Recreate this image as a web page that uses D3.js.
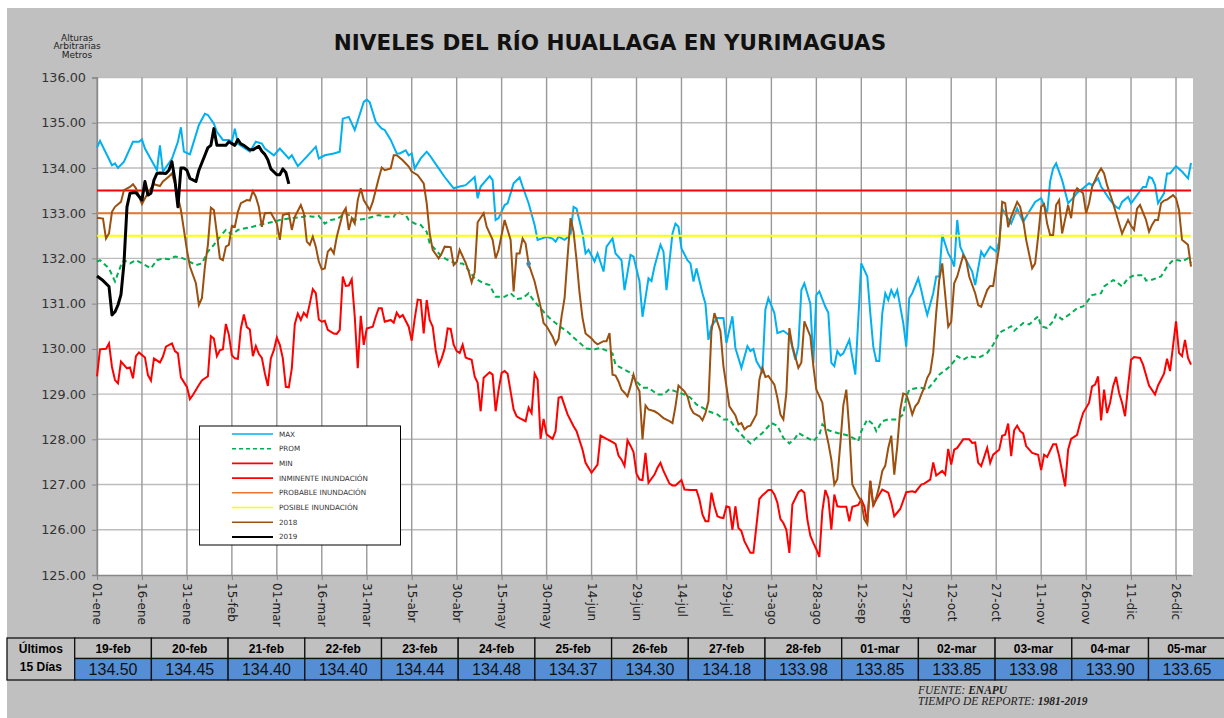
<!DOCTYPE html>
<html>
<head>
<meta charset="utf-8">
<title>Niveles del Río Huallaga en Yurimaguas</title>
<script src="https://d3js.org/d3.v7.min.js"></script>
<style>
body { margin:0; background:#fff; }
svg { display:block; }
</style>
</head>
<body>
<svg id="chart" width="1224" height="718"></svg>
<script>
// ---- data (day index of the year, level in m) ----
var tickLabels = ["01-ene","16-ene","31-ene","15-feb","01-mar","16-mar","31-mar","15-abr","30-abr","15-may","30-may","14-jun","29-jun","14-jul","29-jul","13-ago","28-ago","12-sep","27-sep","12-oct","27-oct","11-nov","26-nov","11-dic","26-dic"];

var maxData = [[0,134.45],[1,134.6],[5,134.06],[6,134.1],[7,134.0],[9,134.14],[12,134.58],[14,134.58],[15,134.63],[16,134.43],[20,133.95],[21,134.5],[22,133.92],[25,134.2],[27,134.58],[28,134.9],[29,134.36],[31,134.3],[34,134.95],[36,135.2],[37,135.17],[39,134.98],[40,134.8],[42,134.62],[44,134.62],[45,134.58],[46,134.87],[47,134.54],[51,134.36],[53,134.58],[55,134.54],[56,134.43],[59,134.28],[61,134.43],[64,134.21],[65,134.28],[67,134.04],[70,134.25],[73,134.47],[74,134.21],[76,134.28],[79,134.32],[81,134.36],[82,135.09],[84,135.13],[86,134.84],[89,135.46],[90,135.51],[91,135.45],[93,135.02],[95,134.87],[96,134.84],[98,134.62],[100,134.32],[101,134.32],[103,134.39],[104,134.28],[105,134.32],[106,133.99],[108,134.21],[110,134.36],[111,134.28],[114,133.99],[116,133.8],[119,133.55],[121,133.59],[123,133.62],[126,133.8],[127,133.33],[128,133.59],[131,133.82],[132,133.73],[133,132.85],[134,132.89],[136,133.18],[137,133.22],[139,133.66],[141,133.79],[142,133.59],[144,133.22],[146,132.74],[147,132.41],[150,132.48],[152,132.44],[153,132.37],[154,132.48],[156,132.41],[158,132.52],[159,133.14],[160,133.1],[162,132.55],[163,132.11],[164,132.19],[166,131.93],[167,132.11],[169,131.71],[170,132.26],[172,132.44],[173,132.11],[175,131.96],[176,131.3],[178,132.08],[179,132.04],[181,131.49],[182,130.71],[184,131.56],[185,131.5],[186,131.82],[188,132.3],[189,132.15],[190,131.3],[192,132.55],[193,132.77],[194,132.7],[195,132.22],[197,131.96],[198,131.89],[199,131.49],[200,131.78],[202,131.23],[203,131.0],[204,130.2],[205,130.5],[207,130.68],[209,130.68],[210,130.13],[212,130.72],[213,130.02],[215,129.58],[217,130.06],[218,129.95],[219,130.0],[220,129.73],[222,129.5],[223,130.87],[224,131.12],[226,130.79],[227,130.35],[229,130.4],[231,130.3],[233,129.76],[234,130.06],[235,131.3],[236,131.45],[238,131.0],[239,129.69],[240,131.19],[241,131.27],[243,130.93],[244,130.8],[245,129.69],[246,129.62],[247,129.95],[248,129.85],[249,129.9],[251,130.2],[253,129.43],[255,131.89],[257,131.6],[258,130.79],[259,130.05],[260,129.73],[261,129.73],[262,130.79],[263,131.23],[264,131.08],[265,131.3],[266,131.15],[267,131.3],[269,130.57],[270,130.05],[271,131.12],[272,131.23],[274,131.56],[275,131.3],[276,131.0],[277,130.75],[279,131.23],[280,131.6],[281,131.6],[282,132.52],[284,132.11],[285,132.0],[286,131.82],[287,132.85],[288,132.26],[290,131.96],[292,131.71],[293,131.41],[295,132.15],[296,132.04],[298,132.26],[300,132.15],[301,132.37],[302,133.1],[305,132.77],[307,133.1],[309,132.81],[311,133.03],[313,133.25],[315,133.33],[317,133.0],[318,133.7],[319,133.99],[320,134.1],[322,133.73],[324,133.22],[326,133.36],[327,133.45],[329,133.55],[331,133.66],[332,133.62],[334,133.77],[335,133.59],[338,133.29],[340,133.14],[341,133.1],[342,133.25],[344,133.36],[345,133.22],[347,133.4],[349,133.58],[350,133.58],[351,133.8],[352,133.77],[353,133.62],[354,133.22],[356,133.44],[357,133.88],[358,133.88],[360,134.04],[362,133.92],[364,133.77],[365,134.11]];

var promData = [[0,131.93],[1,131.96],[4,131.78],[6,131.49],[8,131.85],[9,131.96],[11,131.89],[13,131.96],[15,131.89],[18,131.78],[20,131.96],[22,132.0],[24,131.98],[26,132.04],[28,132.02],[30,131.96],[33,131.85],[35,131.89],[37,132.15],[39,132.3],[41,132.48],[43,132.63],[45,132.52],[47,132.63],[49,132.66],[52,132.7],[54,132.74],[56,132.77],[59,132.81],[61,132.85],[63,132.87],[65,132.89],[68,132.91],[70,132.94],[72,132.92],[74,132.94],[76,132.77],[78,132.85],[80,132.87],[83,133.0],[84,132.96],[86,132.85],[89,132.87],[92,132.92],[94,132.96],[96,132.92],[99,132.92],[100,133.03],[103,132.96],[104,132.85],[106,132.77],[108,132.74],[110,132.59],[111,132.33],[113,132.19],[115,132.04],[118,131.93],[120,131.89],[122,131.89],[124,131.74],[126,131.56],[129,131.45],[131,131.41],[133,131.15],[136,131.15],[138,131.23],[140,131.1],[142,131.12],[144,131.23],[146,131.04],[147,130.97],[149,130.82],[151,130.68],[153,130.57],[155,130.47],[157,130.38],[159,130.25],[161,130.14],[163,130.01],[166,129.99],[168,130.02],[170,129.96],[172,129.9],[173,129.65],[176,129.54],[178,129.47],[180,129.28],[182,129.14],[184,129.14],[187,128.99],[189,128.99],[191,129.11],[193,129.06],[196,128.99],[198,128.92],[200,128.77],[202,128.7],[204,128.62],[207,128.55],[209,128.44],[211,128.44],[213,128.25],[216,128.03],[218,127.91],[220,128.03],[222,128.14],[225,128.36],[227,128.3],[229,128.03],[231,127.91],[233,128.03],[234,128.14],[237,128.03],[239,127.96],[241,128.1],[242,128.33],[244,128.2],[247,128.14],[251,128.08],[254,127.96],[255,128.18],[257,128.44],[259,128.33],[260,128.18],[262,128.4],[264,128.44],[267,128.44],[269,128.55],[270,128.92],[271,129.1],[274,129.14],[275,129.14],[277,129.1],[279,129.25],[281,129.43],[284,129.58],[286,129.73],[287,129.84],[289,129.76],[291,129.84],[294,129.8],[296,129.87],[297,129.91],[299,130.09],[301,130.35],[302,130.39],[305,130.5],[306,130.4],[309,130.57],[311,130.54],[314,130.72],[315,130.5],[317,130.46],[319,130.61],[320,130.76],[322,130.65],[325,130.79],[327,130.9],[329,130.94],[330,131.01],[332,131.19],[335,131.23],[336,131.38],[339,131.52],[340,131.49],[342,131.38],[344,131.56],[346,131.63],[349,131.63],[350,131.51],[352,131.53],[355,131.6],[357,131.82],[359,131.96],[361,131.96],[362,131.93],[364,132.0],[365,131.89]];

var minData = [[0,129.39],[1,129.99],[3,130.0],[4,130.12],[5,129.6],[6,129.31],[7,129.24],[8,129.72],[10,129.57],[11,129.59],[12,129.35],[13,129.84],[14,129.92],[16,129.81],[17,129.42],[18,129.3],[19,129.79],[21,129.7],[22,129.83],[23,130.05],[25,130.12],[26,129.95],[27,129.9],[28,129.37],[30,129.16],[31,128.89],[32,128.98],[34,129.2],[35,129.3],[36,129.35],[37,129.39],[38,130.28],[39,130.23],[40,129.84],[41,129.97],[42,129.99],[43,130.55],[44,130.31],[45,129.86],[46,129.79],[47,129.78],[48,130.45],[49,130.76],[50,130.48],[51,130.43],[52,129.84],[53,130.06],[54,129.89],[55,129.8],[56,129.46],[57,129.18],[58,129.79],[59,129.97],[60,130.25],[61,130.09],[62,129.79],[63,129.16],[64,129.15],[65,129.57],[66,130.55],[67,130.78],[68,130.64],[69,130.8],[70,130.71],[71,131.0],[72,131.32],[73,131.23],[74,130.65],[75,130.6],[76,130.62],[77,130.42],[79,130.34],[80,130.33],[81,130.42],[82,131.6],[83,131.39],[84,131.4],[85,131.54],[86,130.71],[87,129.57],[88,130.73],[89,130.09],[90,130.45],[92,130.49],[93,130.71],[94,130.9],[95,130.9],[96,130.6],[98,130.64],[99,130.58],[100,130.8],[101,130.7],[102,130.75],[104,130.49],[105,130.18],[106,130.67],[107,131.09],[108,131.08],[109,130.34],[110,131.08],[111,130.64],[112,130.49],[113,129.97],[114,129.64],[115,129.79],[116,130.01],[117,130.45],[118,130.44],[119,130.09],[120,129.95],[121,129.91],[122,130.09],[123,129.81],[124,129.78],[125,129.76],[126,129.39],[127,129.25],[128,128.62],[129,129.36],[131,129.48],[132,129.43],[133,128.62],[134,129.1],[135,129.47],[136,129.51],[137,129.45],[139,128.66],[140,128.51],[141,128.47],[143,128.4],[144,128.7],[145,128.58],[146,129.45],[147,129.32],[148,128.01],[149,128.45],[150,128.11],[152,128.01],[153,128.18],[154,128.92],[155,128.94],[157,128.55],[159,128.29],[160,128.18],[162,127.77],[163,127.48],[165,127.26],[167,127.44],[168,128.08],[170,128.01],[172,127.94],[173,127.9],[174,127.64],[175,127.55],[176,127.41],[177,127.98],[178,127.86],[179,127.72],[180,127.24],[181,127.11],[182,127.1],[183,127.7],[184,127.04],[186,127.22],[187,127.37],[188,127.48],[189,127.3],[191,127.02],[192,126.98],[193,126.98],[194,127.04],[195,127.1],[196,126.89],[198,126.88],[200,126.88],[201,126.67],[202,126.34],[203,126.19],[204,126.19],[205,126.82],[206,126.52],[207,126.3],[208,126.27],[209,126.26],[210,126.52],[211,126.5],[212,126.0],[213,126.52],[214,126.04],[215,125.97],[216,125.75],[218,125.49],[219,125.49],[220,126.08],[221,126.68],[222,126.76],[224,126.88],[225,126.88],[226,126.78],[227,126.6],[228,126.24],[229,126.15],[230,126.0],[231,125.49],[232,126.56],[234,126.83],[235,126.88],[236,126.82],[237,126.23],[238,125.87],[239,125.71],[240,125.57],[241,125.4],[242,126.41],[243,126.88],[244,126.7],[245,126.0],[246,126.78],[247,126.52],[248,126.51],[250,126.51],[251,126.19],[252,126.51],[254,126.55],[255,126.67],[256,126.52],[257,126.15],[258,127.08],[259,126.54],[260,126.67],[262,126.89],[264,126.82],[265,126.6],[266,126.3],[268,126.46],[270,126.83],[272,126.85],[273,126.83],[275,127.0],[276,127.02],[278,127.11],[279,127.49],[280,127.2],[282,127.3],[283,127.22],[284,127.79],[285,127.44],[286,127.77],[287,127.81],[289,128.0],[291,128.0],[292,127.92],[293,127.93],[294,127.48],[295,127.41],[297,127.81],[298,127.48],[299,127.66],[301,127.77],[302,128.08],[303,128.1],[304,128.35],[305,127.63],[306,128.2],[307,128.3],[308,128.18],[309,128.13],[310,127.85],[312,127.7],[314,127.66],[315,127.32],[316,127.66],[317,127.61],[319,127.89],[320,127.89],[321,127.63],[323,126.96],[324,127.77],[325,128.01],[327,128.1],[328,128.36],[329,128.58],[331,128.81],[332,129.17],[333,129.21],[334,129.39],[335,128.42],[336,129.1],[337,128.58],[338,128.81],[339,129.17],[340,129.38],[341,129.03],[342,128.81],[343,128.51],[344,129.17],[345,129.76],[346,129.82],[348,129.8],[349,129.65],[351,129.19],[353,128.99],[354,129.19],[356,129.45],[357,129.78],[358,129.51],[359,130.06],[360,130.61],[361,129.91],[362,129.84],[363,130.2],[364,129.8],[365,129.65]];

var y2018 = [[0,132.9],[2,132.88],[3,132.44],[4,132.55],[5,133.03],[6,133.14],[8,133.25],[9,133.51],[11,133.58],[12,133.64],[13,133.55],[15,133.2],[16,133.33],[18,133.55],[19,133.64],[21,133.6],[22,133.7],[24,133.81],[25,133.88],[26,133.66],[27,133.36],[28,133.07],[29,132.63],[30,132.19],[31,131.82],[33,131.45],[34,130.97],[35,131.12],[36,131.82],[37,132.3],[38,133.12],[39,133.07],[40,132.55],[41,132.0],[42,131.96],[43,132.26],[44,132.3],[45,132.72],[46,132.7],[47,133.03],[48,133.22],[50,133.29],[51,133.28],[52,133.49],[53,133.36],[54,133.14],[55,132.7],[56,133.0],[58,133.01],[60,132.77],[61,132.41],[62,132.96],[64,133.0],[65,132.63],[66,132.92],[68,133.18],[69,133.0],[70,132.37],[71,132.3],[72,132.48],[73,132.26],[74,131.93],[75,131.76],[76,131.78],[77,132.15],[78,132.22],[79,132.11],[80,132.48],[82,133.0],[83,133.11],[84,132.63],[85,132.89],[86,132.77],[87,133.29],[88,133.55],[89,133.29],[91,133.07],[92,133.25],[94,133.77],[95,134.01],[96,133.95],[98,133.99],[99,134.28],[100,134.28],[102,134.17],[104,134.03],[105,133.92],[107,133.84],[109,133.66],[110,133.22],[111,132.55],[112,132.19],[114,132.0],[115,132.11],[116,132.26],[118,132.25],[119,131.85],[120,131.92],[121,132.19],[123,131.9],[124,131.71],[125,131.47],[126,131.69],[127,132.8],[129,133.0],[130,132.7],[132,132.41],[133,132.0],[134,132.19],[136,132.85],[137,132.63],[138,132.41],[139,131.27],[140,132.11],[141,132.11],[142,132.44],[143,132.33],[144,131.88],[146,131.49],[148,130.93],[149,130.57],[150,130.5],[152,130.27],[153,130.1],[154,130.22],[155,130.72],[156,131.12],[157,132.04],[158,132.89],[159,132.59],[160,131.96],[161,131.23],[162,130.68],[163,130.34],[165,130.23],[166,130.15],[167,130.1],[169,130.17],[170,130.17],[171,130.35],[172,129.43],[173,129.41],[174,129.28],[175,129.1],[176,129.03],[177,128.95],[178,129.17],[179,129.43],[180,129.19],[181,129.06],[182,128.0],[183,128.75],[184,128.66],[186,128.62],[187,128.58],[189,128.47],[191,128.4],[192,128.36],[193,128.73],[194,129.19],[196,129.06],[197,128.95],[198,128.7],[199,128.58],[201,128.51],[202,128.42],[203,128.58],[204,128.84],[205,130.39],[206,130.79],[208,130.39],[209,129.62],[210,129.17],[211,128.73],[213,128.53],[214,128.33],[215,128.36],[216,128.22],[217,128.28],[218,128.3],[220,128.55],[221,129.32],[222,129.58],[223,129.38],[224,129.4],[226,129.21],[227,128.92],[228,128.55],[229,128.44],[230,129.03],[231,130.46],[232,130.06],[234,129.58],[235,129.7],[236,130.61],[238,130.28],[239,129.62],[240,129.1],[242,128.81],[243,128.22],[244,127.92],[245,127.55],[246,127.0],[247,127.12],[248,127.9],[249,128.75],[250,129.1],[251,128.2],[252,127.0],[254,126.74],[255,126.63],[256,126.23],[257,126.12],[258,127.08],[259,126.52],[260,126.71],[261,126.96],[262,127.3],[263,127.42],[264,127.81],[265,128.08],[266,127.22],[267,127.85],[268,128.66],[269,129.01],[270,128.99],[271,128.79],[272,128.55],[273,128.73],[274,128.81],[275,128.99],[276,129.14],[277,129.36],[278,129.48],[279,129.91],[280,130.8],[281,131.52],[282,131.89],[284,130.49],[285,130.6],[286,131.45],[287,131.6],[289,132.07],[290,131.96],[291,131.6],[293,131.23],[294,130.97],[295,130.93],[297,131.3],[298,131.39],[299,131.39],[301,132.26],[302,133.25],[303,133.22],[304,132.69],[305,132.92],[307,133.25],[308,133.14],[309,132.85],[310,132.41],[312,131.78],[313,131.89],[314,132.48],[315,133.14],[316,133.2],[317,132.77],[318,132.52],[319,132.52],[320,133.18],[321,133.29],[322,132.55],[324,133.18],[325,132.89],[326,133.44],[327,133.55],[329,133.44],[330,133.0],[331,133.22],[332,133.58],[334,133.88],[335,133.99],[336,133.88],[337,133.62],[339,133.22],[340,133.0],[341,132.77],[342,132.55],[344,132.85],[345,132.72],[346,132.63],[347,133.1],[348,133.18],[350,132.85],[351,132.59],[352,132.74],[353,132.85],[354,132.85],[355,133.22],[356,133.28],[357,133.3],[359,133.4],[360,133.33],[361,133.07],[362,132.41],[364,132.3],[365,131.82]];

var y2019 = [[0,131.61],[1,131.56],[2,131.51],[4,131.38],[5,130.75],[6,130.82],[7,130.97],[8,131.2],[9,131.89],[10,133.14],[11,133.44],[12,133.45],[13,133.45],[15,133.29],[16,133.7],[17,133.4],[18,133.44],[19,133.73],[20,133.88],[21,133.89],[23,133.88],[24,133.95],[25,134.14],[26,133.73],[27,133.14],[28,134.0],[29,134.0],[30,133.95],[31,133.77],[33,133.7],[34,133.95],[36,134.28],[37,134.45],[38,134.5],[39,134.87],[40,134.5],[43,134.5],[44,134.58],[46,134.5],[47,134.63],[48,134.53],[49,134.50],[50,134.45],[51,134.40],[52,134.40],[53,134.44],[54,134.48],[55,134.37],[56,134.30],[57,134.18],[58,133.98],[60,133.85],[61,133.85],[62,133.98],[63,133.90],[64,133.65]];

// small stray marker that shows on the 2018 curve
var markerPt = [144, 131.88];

var thresholdNames = ["INMINENTE INUNDACIÓN","PROBABLE INUNDACIÓN","POSIBLE INUNDACIÓN"];
var thresholdVals = [133.5, 133.0, 132.5];

var legendNames = ["MAX","PROM","MIN","INMINENTE INUNDACIÓN","PROBABLE INUNDACIÓN","POSIBLE INUNDACIÓN","2018","2019"];

var lastDays = ["19-feb","20-feb","21-feb","22-feb","23-feb","24-feb","25-feb","26-feb","27-feb","28-feb","01-mar","02-mar","03-mar","04-mar","05-mar"];
var lastVals = [134.50,134.45,134.40,134.40,134.44,134.48,134.37,134.30,134.18,133.98,133.85,133.85,133.98,133.90,133.65];

// ---- styles ----
var cMax = "#00b0f0", cProm = "#00b050", cMin = "#ff0000", c2018 = "#9c500f", c2019 = "#000000";
var thrColors = ["#ff0000","#e8772e","#ffff00"];
var legendColors = [cMax, cProm, cMin, thrColors[0], thrColors[1], thrColors[2], c2018, c2019];

var svg = d3.select("#chart");

// gray sheet
svg.append("rect").attr("x",7).attr("y",8).attr("width",1217).attr("height",710).attr("fill","#c0c0c0");

var plotL = 97, plotR = 1191, plotT = 77.5, plotB = 575;

var x = d3.scaleLinear().domain([0,365]).range([plotL,plotR]);
var y = d3.scaleLinear().domain([125,136]).range([plotB,plotT]);

// plot area
svg.append("rect").attr("x",plotL).attr("y",plotT).attr("width",1193-plotL).attr("height",plotB-plotT).attr("fill","#fff");

// horizontal grid
svg.append("g").selectAll("line").data(d3.range(126,137)).enter().append("line")
  .attr("x1",plotL).attr("x2",1193).attr("y1",function(d){return y(d);}).attr("y2",function(d){return y(d);})
  .attr("stroke","#bdbdbd").attr("stroke-width",1.4);

// vertical grid
svg.append("g").selectAll("line").data(tickLabels).enter().append("line")
  .attr("x1",function(d,i){return x(i*15);}).attr("x2",function(d,i){return x(i*15);})
  .attr("y1",plotT).attr("y2",plotB)
  .attr("stroke","#999").attr("stroke-width",1.4);

// axes
var yAxis = svg.append("g").attr("transform","translate("+plotL+",0)")
  .call(d3.axisLeft(y).tickValues(d3.range(125,137)).tickFormat(d3.format(".2f")).tickSize(5).tickPadding(6));
yAxis.select(".domain").attr("stroke","#888").attr("stroke-width",1.4);
yAxis.selectAll(".tick line").attr("stroke","#888");
yAxis.selectAll("text").attr("font-family","DejaVu Sans, sans-serif").attr("font-size","12.8px").attr("fill","#333");

var xAxis = svg.append("g").attr("transform","translate(0,"+plotB+")")
  .call(d3.axisBottom(x).tickValues(d3.range(0,361,15)).tickFormat(function(d){return tickLabels[d/15];}).tickSize(5).tickSizeOuter(0));
xAxis.select(".domain").attr("stroke","#888").attr("stroke-width",1.4);
xAxis.selectAll(".tick line").attr("stroke","#888");
xAxis.selectAll("text")
  .attr("font-family","DejaVu Sans, sans-serif").attr("font-size","12px").attr("fill","#222")
  .attr("transform","rotate(90)").attr("text-anchor","start")
  .attr("x",8).attr("y",0).attr("dy","0.35em");

// series
var line = d3.line().x(function(d){return x(d[0]);}).y(function(d){return y(d[1]);});
var plot = svg.append("g");

plot.append("path").attr("d",line(maxData)).attr("fill","none").attr("stroke",cMax).attr("stroke-width",2);
plot.append("path").attr("d",line(promData)).attr("fill","none").attr("stroke",cProm).attr("stroke-width",2).attr("stroke-dasharray","5,3.5");
plot.append("path").attr("d",line(minData)).attr("fill","none").attr("stroke",cMin).attr("stroke-width",2);

thresholdVals.forEach(function(v,i){
  plot.append("path").attr("d",line([[0,v],[365,v]])).attr("fill","none").attr("stroke",thrColors[i]).attr("stroke-width",2);
});

plot.append("path").attr("d",line(y2018)).attr("fill","none").attr("stroke",c2018).attr("stroke-width",2);
plot.append("path").attr("d",line(y2019)).attr("fill","none").attr("stroke",c2019).attr("stroke-width",3).attr("stroke-linejoin","round");

plot.append("path").attr("d",d3.symbol(d3.symbolDiamond,22)())
  .attr("transform","translate("+x(markerPt[0])+","+y(markerPt[1])+")")
  .attr("fill","#4f87a6");

// title
svg.append("text").attr("x",610).attr("y",50).attr("text-anchor","middle")
  .attr("font-family","DejaVu Sans, sans-serif").attr("font-weight","bold").attr("font-size","21.5px").attr("fill","#111")
  .text("NIVELES DEL RÍO HUALLAGA EN YURIMAGUAS");

// y unit label
["Alturas","Arbitrarias","Metros"].forEach(function(t,i){
  svg.append("text").attr("x",77).attr("y",40.5+i*8.6).attr("text-anchor","middle")
    .attr("font-family","DejaVu Sans, sans-serif").attr("font-size","9px").attr("fill","#222").text(t);
});

// legend
var lg = svg.append("g");
lg.append("rect").attr("x",199.5).attr("y",426).attr("width",201).attr("height",119).attr("fill","#fff").attr("stroke","#000").attr("stroke-width",1);
legendNames.forEach(function(n,i){
  var ly = 434 + i*14.7;
  var ln = lg.append("line").attr("x1",232).attr("x2",273).attr("y1",ly).attr("y2",ly)
    .attr("stroke",legendColors[i]).attr("stroke-width",i==7?2:1.6);
  if (i==1) ln.attr("stroke-dasharray","4,3");
  lg.append("text").attr("x",279).attr("y",ly).attr("dy","0.35em")
    .attr("font-family","DejaVu Sans, sans-serif").attr("font-size","7.2px").attr("fill","#333").text(n);
});

// last 15 days table
var tb = svg.append("g");
var tx0 = 7, firstW = 67.7, colW = 76.7, r0 = 638, r1 = 658.5, r2 = 680;
tb.append("rect").attr("x",tx0).attr("y",r0).attr("width",firstW).attr("height",r2-r0).attr("fill","#c0c0c0").attr("stroke","#111").attr("stroke-width",1.3);
tb.append("text").attr("x",tx0+firstW/2).attr("y",r0+14.5).attr("text-anchor","middle")
  .attr("font-family","Liberation Sans, Arial, sans-serif").attr("font-weight","bold").attr("font-size","12px").text("Últimos");
tb.append("text").attr("x",tx0+firstW/2).attr("y",r0+33).attr("text-anchor","middle")
  .attr("font-family","Liberation Sans, Arial, sans-serif").attr("font-weight","bold").attr("font-size","12px").text("15 Días");
lastDays.forEach(function(dl,i){
  var cx = tx0 + firstW + i*colW;
  tb.append("rect").attr("x",cx).attr("y",r0).attr("width",colW).attr("height",r1-r0).attr("fill","#c0c0c0").attr("stroke","#111").attr("stroke-width",1.3);
  tb.append("rect").attr("x",cx).attr("y",r1).attr("width",colW).attr("height",r2-r1).attr("fill","#558ed5").attr("stroke","#111").attr("stroke-width",1.3);
  tb.append("text").attr("x",cx+colW/2).attr("y",r0+14.5).attr("text-anchor","middle")
    .attr("font-family","Liberation Sans, Arial, sans-serif").attr("font-weight","bold").attr("font-size","12px").text(dl);
  tb.append("text").attr("x",cx+colW/2).attr("y",r1+16.5).attr("text-anchor","middle")
    .attr("font-family","Liberation Sans, Arial, sans-serif").attr("font-size","16px").attr("fill","#111").text(d3.format(".2f")(lastVals[i]));
});

// source
var src = svg.append("text").attr("x",918).attr("y",694)
  .attr("font-family","Liberation Serif, Times New Roman, serif").attr("font-style","italic").attr("font-size","11.5px").attr("fill","#222");
src.append("tspan").text("FUENTE: ");
src.append("tspan").attr("font-weight","bold").text("ENAPU");
var src2 = svg.append("text").attr("x",918).attr("y",705)
  .attr("font-family","Liberation Serif, Times New Roman, serif").attr("font-style","italic").attr("font-size","11.5px").attr("fill","#222");
src2.append("tspan").text("TIEMPO DE REPORTE: ");
src2.append("tspan").attr("font-weight","bold").text("1981-2019");
</script>
</body>
</html>
